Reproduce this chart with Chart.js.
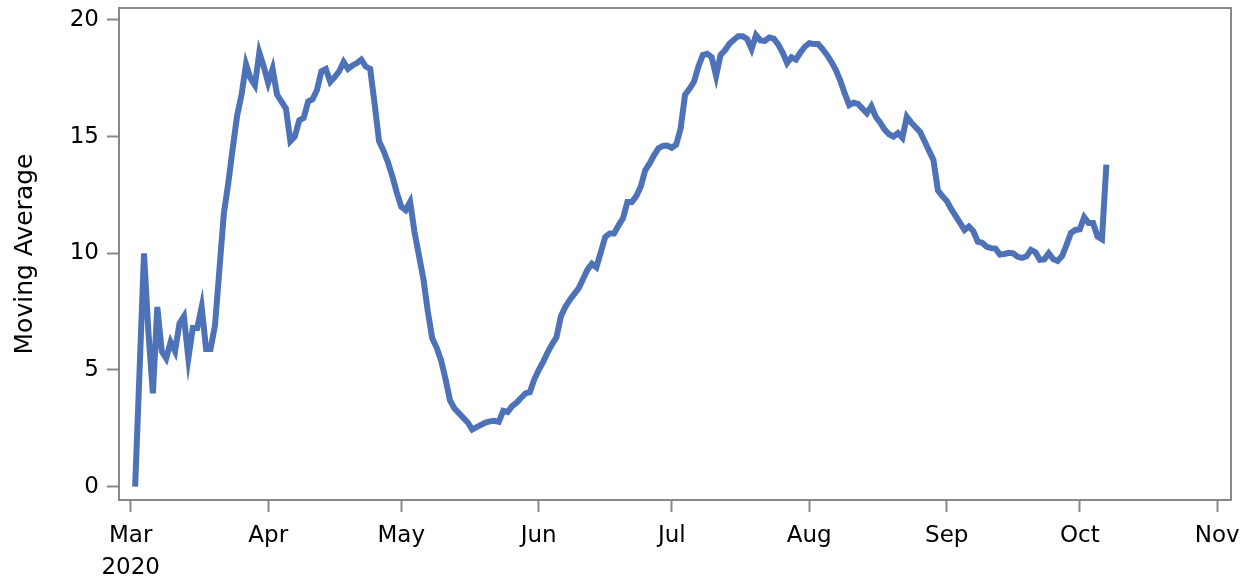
<!DOCTYPE html>
<html>
<head>
<meta charset="utf-8">
<script src="https://cdn.jsdelivr.net/npm/chart.js@4"></script>
<style>
  html, body { margin: 0; padding: 0; background: #fff; }
  #wrap { width: 1252px; height: 582px; }
</style>
</head>
<body>
<div id="wrap"><canvas id="grafica"></canvas></div>
<script>
// Serie diaria: primer dia y valores de la media movil
const startDate = "2020-03-02";
const movingAverage = [
  0, 5.0, 10.0, 6.6, 4.0, 7.7, 5.8, 5.5, 6.2, 5.8,
  7.0, 7.3, 5.5, 6.8, 6.8, 7.7, 5.9, 5.9, 6.9, 9.3,
  11.7, 13.0, 14.5, 15.9, 16.8, 18.1, 17.5, 17.2, 18.6, 18.0,
  17.3, 17.9, 16.8, 16.5, 16.2, 14.8, 15.0, 15.7, 15.8, 16.5,
  16.6, 17.0, 17.8, 17.9, 17.35, 17.55, 17.8, 18.2, 17.9, 18.05,
  18.15, 18.3, 18.0, 17.9, 16.4, 14.8, 14.4, 13.9, 13.3, 12.6,
  12.0, 11.85, 12.2, 10.9, 9.9, 8.9, 7.5, 6.35, 5.95, 5.4,
  4.6, 3.7, 3.35, 3.15, 2.95, 2.75, 2.45, 2.55, 2.65, 2.75,
  2.8, 2.82, 2.78, 3.25, 3.2, 3.45, 3.6, 3.8, 4.0, 4.05,
  4.6, 5.0, 5.35, 5.75, 6.1, 6.4, 7.3, 7.7, 8.0, 8.25,
  8.5, 8.9, 9.3, 9.55, 9.4, 10.05, 10.7, 10.85, 10.85, 11.2,
  11.5, 12.2, 12.2, 12.45, 12.85, 13.55, 13.85, 14.2, 14.5, 14.6,
  14.62, 14.52, 14.65, 15.35, 16.8, 17.05, 17.35, 18.0, 18.5, 18.55,
  18.4, 17.6, 18.5, 18.7, 18.98, 19.15, 19.3, 19.3, 19.18, 18.75,
  19.35, 19.12, 19.1, 19.25, 19.2, 18.95, 18.6, 18.15, 18.4, 18.3,
  18.6, 18.85, 19.0, 18.97, 18.97, 18.75, 18.5, 18.2, 17.85, 17.4,
  16.85, 16.35, 16.45, 16.4, 16.2, 16.0, 16.3, 15.85, 15.6, 15.3,
  15.1, 15.0, 15.15, 14.95, 15.85, 15.6, 15.4, 15.2, 14.8, 14.4,
  14.0, 12.7, 12.45, 12.25, 11.9, 11.6, 11.3, 11.0, 11.15, 10.95,
  10.5, 10.45, 10.28, 10.22, 10.2, 9.95, 9.97, 10.02, 10.0, 9.85,
  9.8, 9.87, 10.15, 10.05, 9.72, 9.74, 10.0, 9.75, 9.67, 9.88,
  10.35, 10.87, 11.0, 11.03, 11.55, 11.3, 11.3, 10.72, 10.6, 13.8
];
// Marcas del eje x (inicio de cada mes) y del eje y
const monthStarts = ["2020-03-01", "2020-04-01", "2020-05-01", "2020-06-01", "2020-07-01",
                     "2020-08-01", "2020-09-01", "2020-10-01", "2020-11-01"];
const monthLabels = [["Mar", "2020"], "Apr", "May", "Jun", "Jul", "Aug", "Sep", "Oct", "Nov"];
const yTicks = [0, 5, 10, 15, 20];

const DAY = 86400000;
const origin = Date.parse("2020-03-01");
const dayOf = s => (Date.parse(s) - origin) / DAY;
const startDay = dayOf(startDate);
const puntos = movingAverage.map((v, i) => ({ x: startDay + i, y: v }));
const tickDays = monthStarts.map(dayOf);

const gris = "#888888";

// Marco alrededor del area de la grafica
const marco = {
  id: "marco",
  beforeDatasetsDraw(chart) {
    const { ctx, chartArea: a } = chart;
    ctx.save();
    ctx.strokeStyle = gris;
    ctx.lineWidth = 2;
    ctx.strokeRect(a.left, a.top, a.right - a.left, a.bottom - a.top);
    ctx.restore();
  }
};

Chart.defaults.font.family = "'DejaVu Sans', sans-serif";
Chart.defaults.color = "#000";

new Chart(document.querySelector("#grafica"), {
  type: "line",
  data: {
    datasets: [{
      data: puntos,
      borderColor: "#4e72b8",
      borderWidth: 6,
      pointRadius: 0,
      tension: 0,
      fill: false
    }]
  },
  options: {
    responsive: true,
    maintainAspectRatio: false,
    animation: false,
    layout: { padding: { top: 8, right: 21, left: 0, bottom: 0 } },
    plugins: { legend: { display: false }, tooltip: { enabled: false } },
    scales: {
      x: {
        type: "linear",
        min: -2.64,
        max: 248.1,
        afterBuildTicks: s => { s.ticks = tickDays.map(v => ({ value: v })); },
        afterFit: s => { s.height = 82; s.paddingLeft = 0; s.paddingRight = 0; },
        ticks: {
          autoSkip: false,
          maxRotation: 0,
          padding: 9,
          font: { size: 23, lineHeight: 1.35 },
          callback: v => monthLabels[tickDays.indexOf(v)]
        },
        grid: { drawOnChartArea: false, drawTicks: true, tickLength: 12, tickColor: gris, tickWidth: 2 },
        border: { display: false }
      },
      y: {
        min: -0.57,
        max: 20.51,
        afterBuildTicks: s => { s.ticks = yTicks.map(v => ({ value: v })); },
        afterFit: s => { s.width = 119; s.paddingTop = 0; s.paddingBottom = 0; },
        ticks: { padding: 8, font: { size: 23 } },
        grid: { drawOnChartArea: false, drawTicks: true, tickLength: 12, tickColor: gris, tickWidth: 2 },
        border: { display: false },
        title: {
          display: true,
          text: "Moving Average",
          font: { size: 25 },
          padding: { top: 10, bottom: 0 }
        }
      }
    }
  },
  plugins: [marco]
});
</script>
</body>
</html>
